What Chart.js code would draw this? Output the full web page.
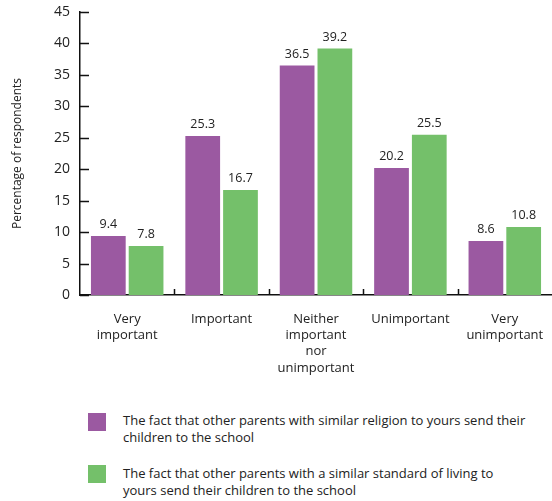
<!DOCTYPE html>
<html>
<head>
<meta charset="utf-8">
<script src="https://cdn.jsdelivr.net/npm/chart.js@4.4.1/dist/chart.umd.min.js"></script>
<style>
  body { margin: 0; background: #fff; font-family: "Open Sans", sans-serif; }
  #wrap { position: relative; width: 552px; height: 501px; overflow: hidden; }
  #chartBox { position: absolute; left: 0; top: 0; width: 552px; height: 395px; }
  .leg { position: absolute; left: 88px; font-size: 13px; color: #222; line-height: 17px; }
  .leg .box { position: absolute; left: 0; width: 18px; height: 18px; }
  .leg .txt { position: absolute; left: 35px; width: 440px; white-space: nowrap; }
</style>
</head>
<body>
<div id="wrap">
  <div id="chartBox"><canvas id="barChart"></canvas></div>
  <div class="leg" id="leg1" style="top:413px;"><div class="box" style="background:rgb(155,89,161)"></div><div class="txt" style="top:-1.5px"></div></div>
  <div class="leg" id="leg2" style="top:465px;"><div class="box" style="background:rgb(116,192,106)"></div><div class="txt" style="top:-0.5px"></div></div>
</div>
<script>
const categories = [
    ['Very', 'important'],
    ['Important'],
    ['Neither', 'important', 'nor', 'unimportant'],
    ['Unimportant'],
    ['Very', 'unimportant']
];
const religionValues = [9.4, 25.3, 36.5, 20.2, 8.6];
const livingValues = [7.8, 16.7, 39.2, 25.5, 10.8];
const seriesNames = [
    ['The fact that other parents with similar religion to yours send their', 'children to the school'],
    ['The fact that other parents with a similar standard of living to', 'yours send their children to the school']
];
const yTicks = [0, 5, 10, 15, 20, 25, 30, 35, 40, 45];

const purple = 'rgb(155, 89, 161)';
const green = 'rgb(116, 192, 106)';

// legend text as html, lines kept as in the picture
document.querySelector('#leg1 .txt').innerHTML = seriesNames[0].join('<br>');
document.querySelector('#leg2 .txt').innerHTML = seriesNames[1].join('<br>');

// values above bars + inward tick marks
const extras = {
    id: 'extras',
    afterDatasetsDraw(chart) {
        const ctx = chart.ctx;
        ctx.save();
        ctx.fillStyle = '#222';
        ctx.font = '12.5px "Open Sans"';
        ctx.textAlign = 'center';
        ctx.textBaseline = 'bottom';
        chart.data.datasets.forEach((ds, i) => {
            chart.getDatasetMeta(i).data.forEach((bar, j) => {
                ctx.fillText(ds.data[j].toFixed(1), bar.x, bar.y - 5);
            });
        });
        ctx.restore();
    },
    afterDraw(chart) {
        const ctx = chart.ctx;
        const x = chart.scales.x, y = chart.scales.y;
        const area = chart.chartArea;
        ctx.save();
        ctx.strokeStyle = '#111';
        ctx.lineWidth = 1.5;
        ctx.beginPath();
        yTicks.forEach(v => {
            const py = Math.round(y.getPixelForValue(v)) + 0.5;
            ctx.moveTo(area.left, py);
            ctx.lineTo(area.left + 9, py);
        });
        const half = (x.getPixelForValue(1) - x.getPixelForValue(0)) / 2;
        for (let i = 1; i < categories.length; i++) {
            const px = Math.round(x.getPixelForValue(i) - half) + 0.5;
            ctx.moveTo(px, area.bottom);
            ctx.lineTo(px, area.bottom - 6);
        }
        ctx.stroke();
        ctx.restore();
    }
};

const data = {
    labels: categories,
    datasets: [
        {
            label: seriesNames[0].join(' '),
            backgroundColor: purple,
            data: religionValues
        },
        {
            label: seriesNames[1].join(' '),
            backgroundColor: green,
            data: livingValues
        }
    ]
};

window.onload = function () {
    let ctx = document.getElementById('barChart').getContext('2d');
    window.barChart = new Chart(ctx, {
        type: 'bar',
        data: data,
        plugins: [extras],
        options: {
            responsive: true,
            maintainAspectRatio: false,
            animation: false,
            layout: {padding: {top: 12, right: 0, left: 0, bottom: 0}},
            datasets: {bar: {categoryPercentage: 0.8, barPercentage: 0.92}},
            plugins: {
                legend: {display: false},
                tooltip: {enabled: false}
            },
            scales: {
                x: {
                    offset: true,
                    grid: {display: false, drawTicks: false},
                    border: {display: true, color: '#111', width: 1.5},
                    ticks: {
                        color: '#222',
                        font: {family: 'Open Sans', size: 13, lineHeight: 1.25},
                        padding: 16,
                        maxRotation: 0,
                        autoSkip: false
                    },
                    afterFit: s => { s.height = 100; s.paddingLeft = 0; s.paddingRight = 0; }
                },
                y: {
                    min: 0,
                    max: 45,
                    grid: {display: false, drawTicks: false},
                    border: {display: true, color: '#111', width: 1.5},
                    ticks: {
                        stepSize: 5,
                        color: '#222',
                        font: {family: 'Open Sans', size: 14},
                        padding: 10
                    },
                    title: {
                        display: true,
                        text: 'Percentage of respondents',
                        color: '#222',
                        font: {family: 'Open Sans', size: 12},
                        padding: {top: 10, bottom: 0}
                    },
                    afterFit: s => { s.width = 80; s.paddingTop = 0; s.paddingBottom = 0; }
                }
            }
        }
    });
};
</script>
</body>
</html>
